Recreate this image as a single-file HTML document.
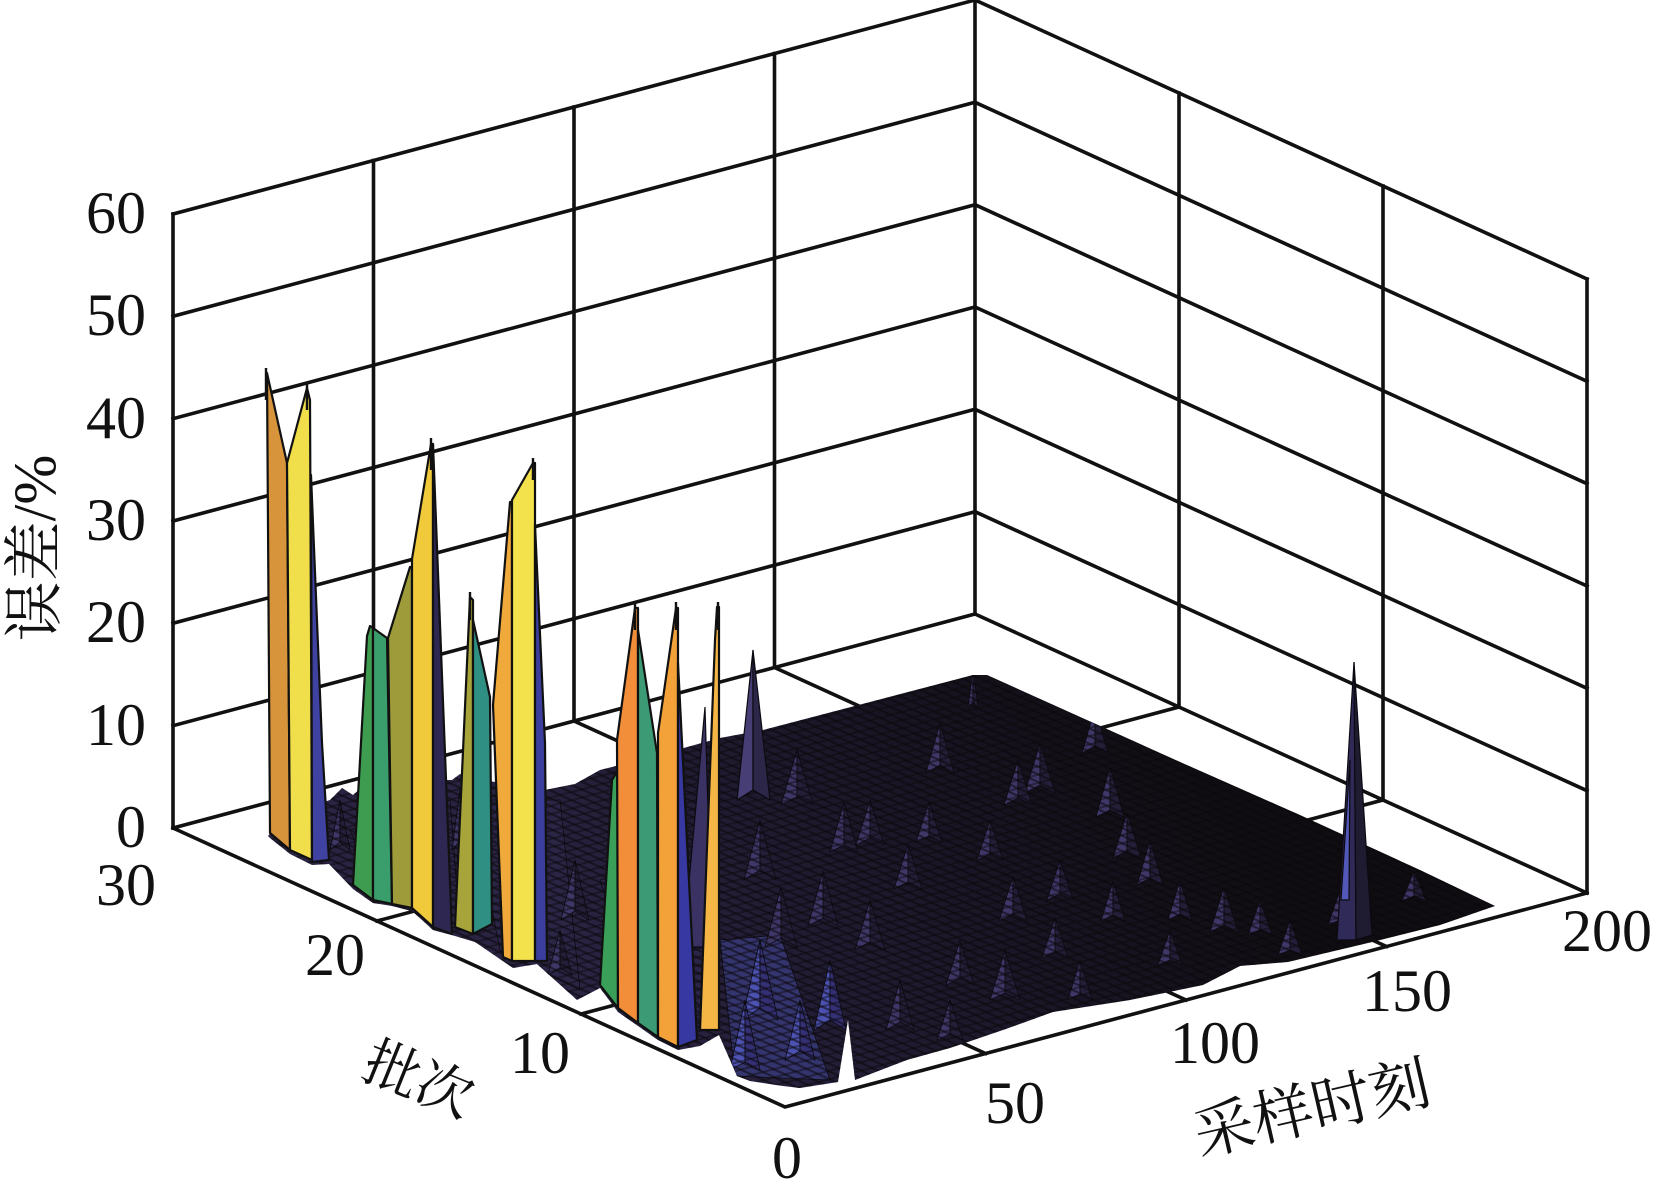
<!DOCTYPE html>
<html><head><meta charset="utf-8"><style>
html,body{margin:0;padding:0;background:#fff;}
svg{display:block;}
.t{font-family:"Liberation Serif","Noto Serif CJK SC",serif;font-size:60px;fill:#111;}
.c{font-family:"Liberation Serif","Noto Serif CJK SC","Noto Sans CJK SC",serif;fill:#111;}
</style></head><body>
<svg width="1655" height="1198" viewBox="0 0 1655 1198" xmlns="http://www.w3.org/2000/svg">
<defs>
<linearGradient id="g" gradientUnits="userSpaceOnUse" x1="650" y1="1050" x2="1150" y2="700">
<stop offset="0" stop-color="#2a2342"/><stop offset="0.5" stop-color="#1c1729"/><stop offset="1" stop-color="#100d12"/>
</linearGradient>
<pattern id="h1" patternUnits="userSpaceOnUse" width="7" height="7" patternTransform="rotate(24.5)">
<rect width="7" height="2.2" fill="#0a080c" opacity="0.55"/>
</pattern>
<pattern id="h2" patternUnits="userSpaceOnUse" width="8" height="8" patternTransform="rotate(-15)">
<rect width="8" height="2" fill="#0a080c" opacity="0.45"/>
</pattern>
<clipPath id="surf">
<polygon id="sp" points="268,836 285,815 330,800 342,788 353,795 370,780 452,780 460,774 470,778 545,790 575,784 600,770 640,760 720,738 763,730 870,702 973,675 987,675 1180,762 1300,815 1420,870 1495,906 1440,925 1372,942 1330,952 1288,962 1240,966 1203,985 1130,1000 1053,1012 1003,1030 950,1048 907,1060 855,1080 848,1020 838,1082 800,1088 783,1086 750,1081 737,1076 719,1035 700,1046 678,1050 658,1040 638,1026 618,1012 600,988 577,1000 537,964 513,968 475,942 455,936 433,930 412,911 392,906 373,903 353,889 329,864 312,865 290,854 270,838"/>
</clipPath>
</defs>
<rect width="1655" height="1198" fill="#fff"/>
<g stroke="#111" stroke-width="3.6" fill="none" stroke-linecap="square">
<path d="M173,828L975,614M173,725.7L975,511.7M173,623.3L975,409.3M173,521L975,307M173,418.7L975,204.7M173,316.3L975,102.3M173,214L975,0"/>
<path d="M975,614L1587,893M975,511.7L1587,790.7M975,409.3L1587,688.3M975,307L1587,586M975,204.7L1587,483.7M975,102.3L1587,381.3M975,0L1587,279"/>
<path d="M173,828V214M373.5,774.5V160.5M574,721V107M774.5,667.5V53.5M975,614V0M1179,707V93M1383,800V186M1587,893V279"/>
<path d="M373.5,774.5L985.5,1053.5M574,721L1186,1000M774.5,667.5L1386.5,946.5M1179,707L377,921M1383,800L581,1014"/>
<path d="M173,828L785,1107L1587,893"/>
</g>
<!-- dark surface -->
<use href="#sp" fill="url(#g)"/>
<g clip-path="url(#surf)">
<g stroke="#0c0a10" stroke-width="0.8">
<polygon points="720,940 780,935 830,1080 735,1076" fill="#34356e"/>
<polygon points="600,880 700,860 720,1030 640,1000" fill="#2a2446"/>
<polygon points="350,830 450,800 460,930 380,900" fill="#2c2547"/>
<polygon points="470,800 560,800 580,990 500,950" fill="#2b2546"/>
<g fill="#3f3768">
<polygon points="797,750 781,805 797,797"/><polygon points="844,802 830,852 844,845"/><polygon points="823,871 808,926 823,918"/><polygon points="781,887 765,947 781,938"/><polygon points="908,844 894,889 908,882"/><polygon points="929,802 916,842 929,836"/><polygon points="940,723 926,773 940,765"/><polygon points="1018,760 1004,805 1018,798"/><polygon points="1040,743 1025,793 1040,785"/><polygon points="1013,876 999,921 1013,914"/><polygon points="1055,918 1042,958 1055,952"/><polygon points="1095,708 1082,753 1095,746"/><polygon points="1110,767 1096,817 1110,810"/><polygon points="1127,813 1113,858 1127,851"/><polygon points="1113,881 1101,921 1113,915"/><polygon points="1150,840 1137,885 1150,878"/><polygon points="1224,887 1210,932 1224,925"/><polygon points="1260,900 1248,935 1260,930"/><polygon points="1290,920 1278,955 1290,950"/><polygon points="1414,871 1402,901 1414,896"/><polygon points="973,668 968,708 973,702"/><polygon points="870,900 855,950 870,942"/><polygon points="960,940 946,985 960,978"/><polygon points="900,980 886,1030 900,1022"/><polygon points="1170,930 1158,965 1170,960"/><polygon points="870,800 856,845 870,838"/><polygon points="990,820 977,860 990,854"/><polygon points="1060,860 1047,900 1060,894"/><polygon points="950,1000 937,1040 950,1034"/><polygon points="1080,960 1068,1000 1080,994"/><polygon points="575,860 561,920 575,911"/><polygon points="340,800 330,850 340,842"/><polygon points="460,790 452,850 460,841"/>
<polygon points="1005,950 990,1000 1005,993"/><polygon points="1180,880 1168,920 1180,914"/><polygon points="1340,890 1328,925 1340,920"/><polygon points="760,820 744,880 760,870"/><polygon points="560,930 548,975 560,968"/>
</g>
<g fill="#241e38">
<polygon points="797,750 797,797 813,805"/><polygon points="844,802 844,845 858,852"/><polygon points="823,871 823,918 838,926"/><polygon points="781,887 781,938 797,947"/><polygon points="908,844 908,882 922,889"/><polygon points="929,802 929,836 942,842"/><polygon points="940,723 940,765 954,773"/><polygon points="1018,760 1018,798 1032,805"/><polygon points="1040,743 1040,785 1055,793"/><polygon points="1013,876 1013,914 1027,921"/><polygon points="1055,918 1055,952 1068,958"/><polygon points="1095,708 1095,746 1108,753"/><polygon points="1110,767 1110,810 1124,817"/><polygon points="1127,813 1127,851 1141,858"/><polygon points="1113,881 1113,915 1125,921"/><polygon points="1150,840 1150,878 1163,885"/><polygon points="1224,887 1224,925 1238,932"/><polygon points="1260,900 1260,930 1272,935"/><polygon points="1290,920 1290,950 1302,955"/><polygon points="1414,871 1414,896 1426,901"/><polygon points="973,668 973,702 978,708"/><polygon points="870,900 870,942 885,950"/><polygon points="960,940 960,978 974,985"/><polygon points="900,980 900,1022 914,1030"/><polygon points="1170,930 1170,960 1182,965"/><polygon points="870,800 870,838 884,845"/><polygon points="990,820 990,854 1003,860"/><polygon points="1060,860 1060,894 1073,900"/><polygon points="950,1000 950,1034 963,1040"/><polygon points="1080,960 1080,994 1092,1000"/><polygon points="575,860 575,911 589,920"/><polygon points="340,800 340,842 350,850"/><polygon points="460,790 460,841 468,850"/>
<polygon points="1005,950 1005,993 1020,1000"/><polygon points="1180,880 1180,914 1192,920"/><polygon points="1340,890 1340,920 1352,925"/><polygon points="760,820 760,870 776,880"/><polygon points="560,930 560,968 572,975"/>
</g>
<g fill="#4c52b2">
<polygon points="760,940 742,1020 760,1008"/><polygon points="830,960 814,1030 830,1020"/><polygon points="800,1000 785,1060 800,1051"/><polygon points="745,1000 730,1070 745,1062"/>
</g>
<g fill="#343075">
<polygon points="760,940 760,1008 778,1020"/><polygon points="830,960 830,1020 846,1030"/><polygon points="800,1000 800,1051 815,1060"/><polygon points="745,1000 745,1062 760,1070"/>
</g>
</g>
<rect x="250" y="650" width="1260" height="450" fill="url(#h1)"/>
<rect x="250" y="650" width="1260" height="450" fill="url(#h2)"/>
</g>
<!-- purple spikes near group 4 -->
<g stroke="#0c0a10" stroke-width="1.2">
<polygon points="683,947 705,707 712,947" fill="#3a3262"/>
<polygon points="737,800 753,650 753,790" fill="#463e74"/>
<polygon points="753,650 770,800 753,790" fill="#2c2648"/>
<polygon points="1337,940 1354,662 1356,940" fill="#2f2a58"/>
<polygon points="1341,900 1350,760 1349,900" fill="#5258b8"/>
<polygon points="1354,662 1372,935 1356,940" fill="#1f1b30"/>
</g>
<!-- colored spikes -->
<g stroke="#111" stroke-width="2.2" stroke-linejoin="round">
<polygon points="267,373 270,833 290,850 287,463" fill="#d8943a"/>
<polygon points="287,463 307,388 310,400 312,860 290,850" fill="#f0de4a"/>
<polygon points="311,475 322,743 329,860 312,862" fill="#3f42a0"/>

<polygon points="353,885 367,636 370,626 373,628 373,900" fill="#3e9c50"/>
<polygon points="373,628 387,638 392,904 373,900" fill="#3a9d6c"/>
<polygon points="388,638 410,567 412,567 412,908 392,904" fill="#9e9c3a"/>
<polygon points="412,559 431,444 433,444 433,927 412,908" fill="#f1ca3c"/>
<polygon points="433,444 452,934 433,927" fill="#2e2752"/>

<polygon points="455,927 470,597 473,600 473,934" fill="#a6a43a"/>
<polygon points="473,620 490,697 492,924 473,934" fill="#2f8f82"/>
<polygon points="493,705 510,502 512,502 512,961 503,957" fill="#f0aa3c"/>
<polygon points="512,500 533,463 535,463 535,961 512,961" fill="#f3e24c"/>
<polygon points="535,525 545,743 547,961 535,961" fill="#3b3e9c"/>

<polygon points="600,985 612,780 618,770 618,1008" fill="#3a9f58"/>
<polygon points="617,740 635,608 638,608 638,1023 618,1008" fill="#f28e3a"/>
<polygon points="638,630 657,753 658,1037 638,1023" fill="#3c9a74"/>
<polygon points="658,733 676,608 678,608 678,1047 658,1037" fill="#f3a23a"/>
<polygon points="678,663 697,1040 678,1047" fill="#3838a2"/>
<polygon points="700,1030 715,640 717,607 719,607 719,1030" fill="#f6b646"/>
</g>
<g stroke="#111" stroke-width="2.4">
<path d="M266,368V400M307,384V410M431,438V470M533,458V480M635,602V630M676,602V630M718,602V630M470,592V620"/>
</g>
<!-- labels -->
<g class="t" text-anchor="end">
<text x="146" y="233">60</text>
<text x="146" y="335">50</text>
<text x="146" y="438">40</text>
<text x="146" y="540">30</text>
<text x="146" y="642">20</text>
<text x="146" y="745">10</text>
<text x="146" y="847">0</text>
</g>
<g class="t" text-anchor="middle">
<text x="126" y="905">30</text>
<text x="335" y="975">20</text>
<text x="540" y="1073">10</text>
<text x="787" y="1178">0</text>
<text x="1015" y="1123">50</text>
<text x="1215" y="1063">100</text>
<text x="1407" y="1011">150</text>
<text x="1607" y="951">200</text>
</g>
<text class="c" font-size="60" text-anchor="middle" transform="translate(55,548) rotate(-90)">误差/%</text>
<text class="c" font-size="56" text-anchor="middle" transform="translate(419,1079) rotate(22)" y="20">批次</text>
<text class="c" font-size="60" text-anchor="middle" transform="translate(1312,1108) rotate(-13)" y="21">采样时刻</text>
</svg>
</body></html>
